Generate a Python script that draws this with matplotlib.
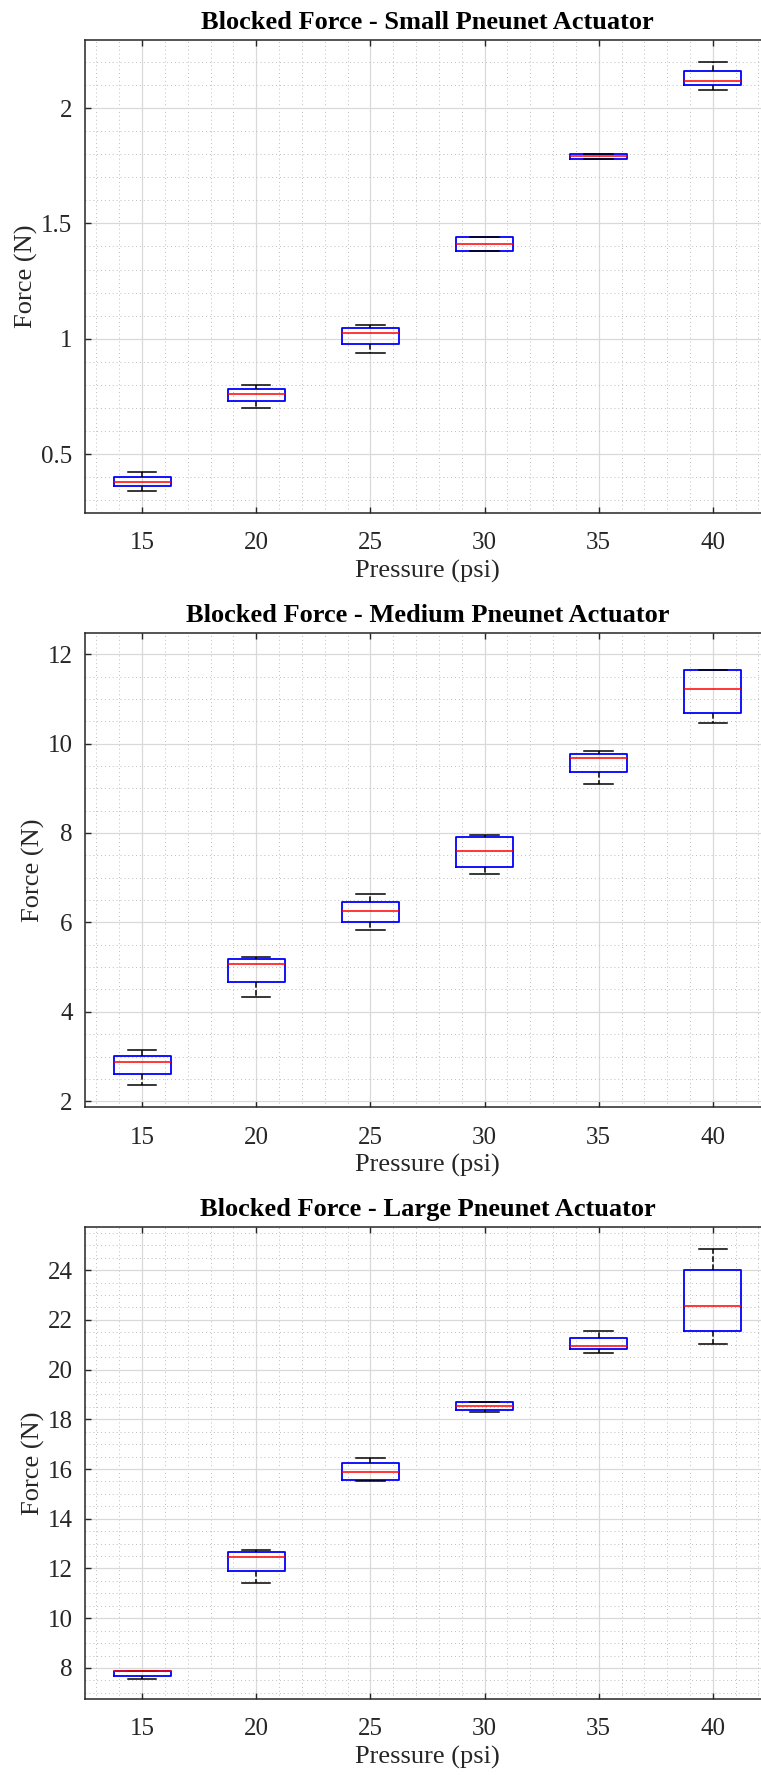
import matplotlib
matplotlib.use("Agg")
import matplotlib.pyplot as plt
from matplotlib.ticker import MultipleLocator, FormatStrFormatter

plt.rcParams["font.family"] = ["Liberation Serif", "DejaVu Serif"]

pressures = ["15", "20", "25", "30", "35", "40"]

# per-pressure box statistics: lower cap, q1, median, q3, upper cap
small_lo = [0.339, 0.701, 0.939, 1.380, 1.780, 2.080]
small_q1 = [0.361, 0.729, 0.979, 1.380, 1.780, 2.101]
small_med = [0.381, 0.761, 1.026, 1.412, 1.793, 2.119]
small_q3 = [0.401, 0.781, 1.047, 1.440, 1.800, 2.159]
small_hi = [0.421, 0.800, 1.060, 1.440, 1.800, 2.200]

medium_lo = [2.36, 4.33, 5.84, 7.08, 9.09, 10.47]
medium_q1 = [2.60, 4.67, 6.01, 7.23, 9.36, 10.68]
medium_med = [2.87, 5.08, 6.26, 7.60, 9.68, 11.23]
medium_q3 = [3.01, 5.19, 6.46, 7.91, 9.77, 11.64]
medium_hi = [3.15, 5.23, 6.63, 7.95, 9.84, 11.64]

large_lo = [7.56, 11.43, 15.50, 18.29, 20.65, 21.03]
large_q1 = [7.68, 11.91, 15.57, 18.37, 20.83, 21.57]
large_med = [7.86, 12.46, 15.89, 18.55, 20.95, 22.56]
large_q3 = [7.88, 12.66, 16.25, 18.71, 21.27, 24.00]
large_hi = [7.88, 12.76, 16.44, 18.71, 21.57, 24.86]

panels = [
    ("Blocked Force - Small Pneunet Actuator",
     (small_lo, small_q1, small_med, small_q3, small_hi),
     (0.245, 2.295), 0.5, 0.1, [0.7110, 0.2665]),
    ("Blocked Force - Medium Pneunet Actuator",
     (medium_lo, medium_q1, medium_med, medium_q3, medium_hi),
     (1.87, 12.47), 2, 0.5, [0.3763, 0.2670]),
    ("Blocked Force - Large Pneunet Actuator",
     (large_lo, large_q1, large_med, large_q3, large_hi),
     (6.75, 25.73), 2, 0.5, [0.0428, 0.2659]),
]

fig = plt.figure(figsize=(7.61, 17.75), dpi=100)

for title, (lo, q1, med, q3, hi), ylim, major, minor, (bottom, height) in panels:
    ax = fig.add_axes([0.1117, bottom, 0.900, height])
    stats = []
    for i in range(len(pressures)):
        stats.append({"whislo": lo[i], "q1": q1[i], "med": med[i],
                      "q3": q3[i], "whishi": hi[i], "fliers": []})
    ax.bxp(stats, positions=range(1, len(pressures) + 1), widths=0.5,
           showfliers=False,
           boxprops=dict(color="blue", linewidth=1.3),
           medianprops=dict(color="red", linewidth=1.1),
           whiskerprops=dict(color="black", linewidth=1.1, linestyle="--"),
           capprops=dict(color="black", linewidth=1.1),
           capwidths=0.25)
    ax.set_xlim(0.5, 6.5)
    ax.set_ylim(*ylim)
    ax.set_xticks(range(1, len(pressures) + 1))
    ax.set_xticklabels(pressures)
    ax.yaxis.set_major_locator(MultipleLocator(major))
    ax.yaxis.set_major_formatter(FormatStrFormatter("%g"))
    ax.yaxis.set_minor_locator(MultipleLocator(minor))
    ax.xaxis.set_minor_locator(MultipleLocator(0.2))
    ax.set_axisbelow(True)
    ax.grid(which="major", color="#d9d9d9", linewidth=0.9)
    ax.grid(which="minor", color="#bdbdbd", linestyle=(0, (1, 3)), linewidth=0.7)
    ax.tick_params(which="major", direction="in", length=4, width=1,
                   top=True, right=True, labelsize=18, color="#262626")
    ax.tick_params(axis="x", which="major", pad=14)
    ax.tick_params(axis="y", which="major", pad=9)
    ax.tick_params(which="minor", length=0)
    for s in ax.spines.values():
        s.set_color("#262626")
        s.set_linewidth(1.1)
    ax.set_title(title, fontsize=19, fontweight="bold", pad=8)
    ax.set_xlabel("Pressure (psi)", fontsize=19, labelpad=4, color="#262626")
    ax.set_ylabel("Force (N)", fontsize=19, labelpad=2, color="#262626")
    for lab in ax.get_xticklabels() + ax.get_yticklabels():
        lab.set_color("#262626")

fig.savefig("out.png", dpi=100)
